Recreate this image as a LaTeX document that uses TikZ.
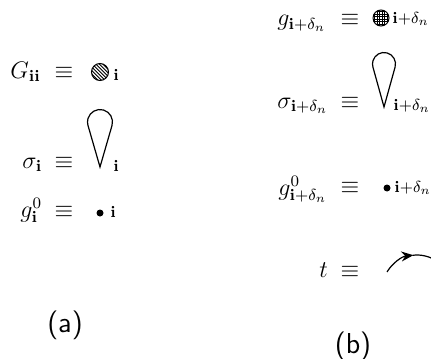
\documentclass[tikz,border=0pt]{standalone}
\usetikzlibrary{arrows.meta,calc}
\begin{document}
\begin{tikzpicture}[x=0.5pt,y=0.5pt,
  txt/.style={inner sep=0pt,anchor=base west,font=\large},
  eqv/.style={inner sep=0pt,anchor=base,font=\large},
  lbl/.style={inner sep=0pt,anchor=base west,font=\large},
  captxt/.style={inner sep=0pt,font=\sffamily\Large},
  loopline/.style={line width=0.6pt},
  dotfill/.style={fill=black,draw=none}]
\useasboundingbox (0,0) rectangle (431,-358);
% ---------- (a) ----------
\node[txt] (Ga) at (10,-78) {$G_{\mathbf{ii}}$};
\node[eqv] (ea1) at (64,-78) {$\equiv$};
\coordinate (ca) at (100,-72);
\begin{scope}
  \clip (ca) circle[radius=8.5];
  \fill[black] (ca) circle[radius=8.5];
  \foreach \k in {-12,-8.5,...,12}
    \draw[white,line width=0.6pt] ($(ca)+(\k-10,10)$) -- ($(ca)+(\k+10,-10)$);
\end{scope}
\draw[line width=0.5pt] (ca) circle[radius=8.5];
\node[lbl] (ia1) at (113,-80) {$\scriptstyle\mathbf{i}$};

\node[txt] (sa) at (22,-168) {$\sigma_{\mathbf{i}}$};
\node[eqv] (ea2) at (64,-168) {$\equiv$};
\coordinate (pa) at (100,-167);
\coordinate (cla) at (100,-122);
\draw[loopline] (pa) -- ($(cla)+(-16:12.5)$) arc[start angle=-16,end angle=196,radius=12.5] -- cycle;
\node[lbl] (ia2) at (113,-171) {$\scriptstyle\mathbf{i}$};

\node[txt] (ga) at (20,-217) {$g^0_{\mathbf{i}}$};
\node[eqv] (ea3) at (64,-217) {$\equiv$};
\fill[dotfill] (100,-213) circle[radius=3.5];
\node[lbl] (ia3) at (110,-217) {$\scriptstyle\mathbf{i}$};

\node[captxt] (capa) at (65,-325) {(a)};

% ---------- (b) ----------
\node[txt] (gb) at (277,-26) {$g_{\mathbf{i}+\delta_n}$};
\node[eqv] (eb1) at (350,-26) {$\equiv$};
\coordinate (cb) at (381,-18);
\begin{scope}
  \clip (cb) circle[radius=8];
  \fill[black] (cb) circle[radius=8];
  \foreach \i in {-7.5,-5,...,7.5}
    \foreach \j in {-7.5,-5,...,7.5}
      \fill[white] ($(cb)+(\i,\j)+(-0.6,-0.6)$) rectangle ++(1.2,1.2);
\end{scope}
\draw[line width=0.5pt] (cb) circle[radius=8];
\node[lbl] (lb1) at (392,-24) {$\scriptstyle\mathbf{i}+\delta_n$};

\node[txt] (sb) at (277,-108) {$\sigma_{\mathbf{i}+\delta_n}$};
\node[eqv] (eb2) at (350,-108) {$\equiv$};
\coordinate (pb) at (384,-107);
\coordinate (clb) at (384,-64);
\draw[loopline] (pb) -- ($(clb)+(-16:11.5)$) arc[start angle=-16,end angle=196,radius=11.5] -- cycle;
\node[lbl] (lb2) at (393,-110) {$\scriptstyle\mathbf{i}+\delta_n$};

\node[txt] (g0b) at (278,-195) {$g^0_{\mathbf{i}+\delta_n}$};
\node[eqv] (eb3) at (350,-193) {$\equiv$};
\fill[dotfill] (387,-188) circle[radius=3.5];
\node[lbl] (lb3) at (394,-192) {$\scriptstyle\mathbf{i}+\delta_n$};

\node[txt] (tb) at (319,-277) {$t$};
\node[eqv] (eb4) at (350,-277) {$\equiv$};
\coordinate (ct) at (417,-290);
\begin{scope}
  \clip (0,0) rectangle (431,-358);
  \draw[line width=0.6pt,-{Stealth[length=6pt,width=5pt]}] ($(ct)+(149:35)$) arc[start angle=149,end angle=96,radius=35];
  \draw[line width=0.6pt] ($(ct)+(97:35)$) arc[start angle=97,end angle=55,radius=35];
\end{scope}

\node[captxt] (capb) at (353,-346) {(b)};
\end{tikzpicture}
\end{document}
